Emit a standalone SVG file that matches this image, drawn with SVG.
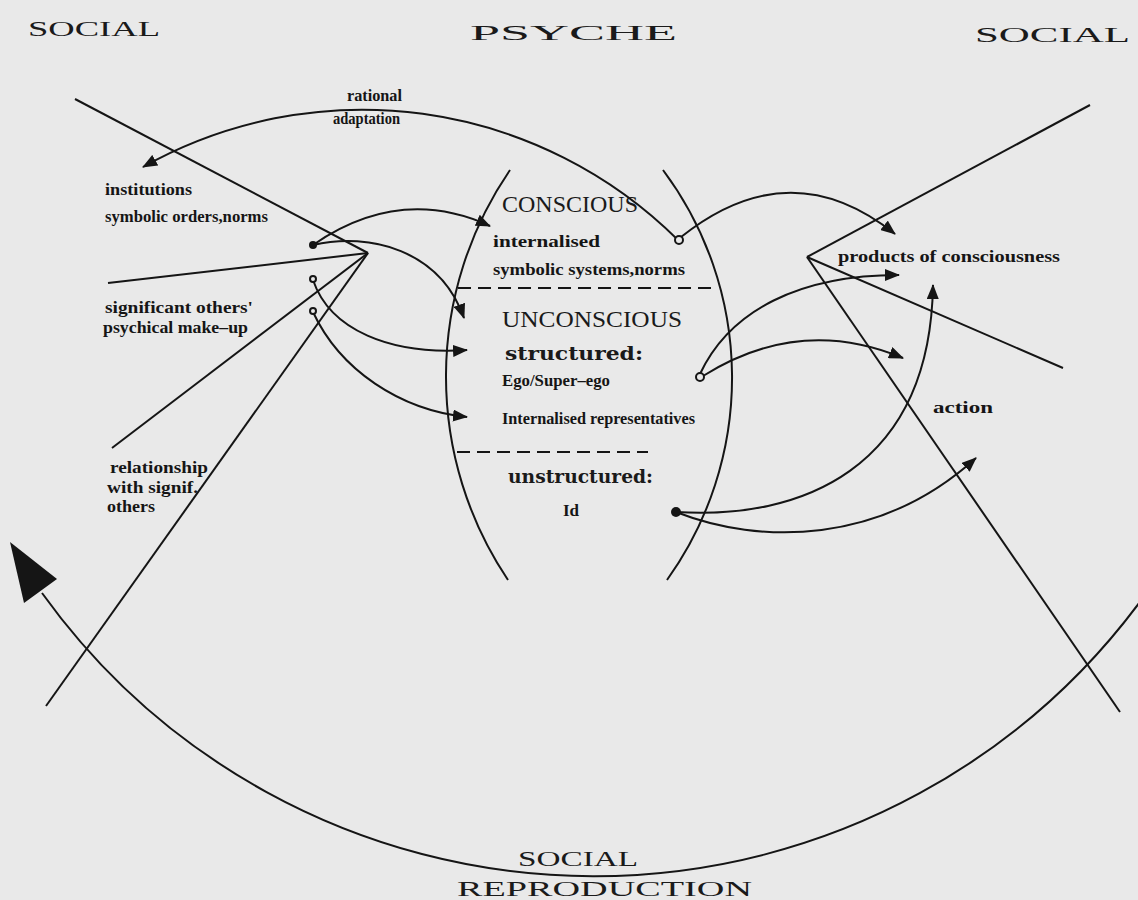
<svg xmlns="http://www.w3.org/2000/svg" width="1138" height="900" viewBox="0 0 1138 900">
<style>
.ln{fill:none;stroke:#151515;stroke-width:2}
.dash{fill:none;stroke:#151515;stroke-width:2;stroke-dasharray:13,7}
.title{font-family:"Liberation Serif",serif;font-size:22px;fill:#1a1a1a}
.caps{font-family:"Liberation Serif",serif;font-size:23px;fill:#1a1a1a}
.slab{font-family:"DejaVu Serif",serif;font-weight:bold;font-size:19px;fill:#1a1a1a}
.lab{font-family:"Liberation Serif",serif;font-weight:bold;font-size:17px;fill:#151515}
.oc{fill:#e9e9e9;stroke:#151515;stroke-width:2}
.dot{fill:#151515}
</style>
<defs>
<marker id="ah" markerWidth="15" markerHeight="12" refX="14" refY="6" orient="auto" markerUnits="userSpaceOnUse">
<path d="M0,0 L15,6 L0,12 z" fill="#151515"/>
</marker>
</defs>
<rect width="1138" height="900" fill="#e9e9e9"/>

<g id="titles">
<text class="title" x="28" y="36" textLength="132" lengthAdjust="spacingAndGlyphs">SOCIAL</text>
<text class="title" x="470" y="40" textLength="207" lengthAdjust="spacingAndGlyphs">PSYCHE</text>
<text class="title" x="975" y="42" textLength="155" lengthAdjust="spacingAndGlyphs">SOCIAL</text>
<text class="title" x="518" y="866" textLength="120" lengthAdjust="spacingAndGlyphs">SOCIAL</text>
<text class="title" x="457" y="896" textLength="295" lengthAdjust="spacingAndGlyphs">REPRODUCTION</text>
</g>

<g id="psyche">
<path class="ln" d="M510,170 A365,365 0 0 0 508,580"/>
<path class="ln" d="M663,170 A347,347 0 0 1 667,580"/>
<line class="dash" x1="458" y1="288" x2="718" y2="288"/>
<line class="dash" x1="457" y1="452" x2="648" y2="452"/>
<text class="caps" x="502" y="212" textLength="136" lengthAdjust="spacingAndGlyphs">CONSCIOUS</text>
<text class="lab" x="493" y="247" textLength="107" lengthAdjust="spacingAndGlyphs">internalised</text>
<text class="lab" x="493" y="275" textLength="192" lengthAdjust="spacingAndGlyphs">symbolic systems,norms</text>
<text class="caps" x="502" y="327" textLength="180" lengthAdjust="spacingAndGlyphs">UNCONSCIOUS</text>
<text class="slab" x="505" y="360" textLength="138" lengthAdjust="spacingAndGlyphs">structured:</text>
<text class="lab" x="502" y="386" textLength="108" lengthAdjust="spacingAndGlyphs">Ego/Super–ego</text>
<text class="lab" x="502" y="424" textLength="193" lengthAdjust="spacingAndGlyphs">Internalised representatives</text>
<text class="slab" x="508" y="483" textLength="145" lengthAdjust="spacingAndGlyphs">unstructured:</text>
<text class="lab" x="563" y="516">Id</text>
</g>

<g id="social-left">
<line class="ln" x1="75" y1="99" x2="368" y2="253"/>
<line class="ln" x1="108" y1="283" x2="368" y2="253"/>
<line class="ln" x1="112" y1="448" x2="368" y2="253"/>
<line class="ln" x1="46" y1="706" x2="368" y2="253"/>
<text class="lab" x="105" y="195" textLength="87" lengthAdjust="spacingAndGlyphs">institutions</text>
<text class="lab" x="105" y="222" textLength="163" lengthAdjust="spacingAndGlyphs">symbolic orders,norms</text>
<text class="lab" x="105" y="313" textLength="148" lengthAdjust="spacingAndGlyphs">significant others'</text>
<text class="lab" x="103" y="333" textLength="145" lengthAdjust="spacingAndGlyphs">psychical make–up</text>
<text class="lab" x="110" y="473" textLength="98" lengthAdjust="spacingAndGlyphs">relationship</text>
<text class="lab" x="107" y="493" textLength="91" lengthAdjust="spacingAndGlyphs">with signif.</text>
<text class="lab" x="107" y="512" textLength="48" lengthAdjust="spacingAndGlyphs">others</text>
</g>

<g id="social-right">
<line class="ln" x1="807" y1="257" x2="1090" y2="105"/>
<line class="ln" x1="807" y1="257" x2="1063" y2="368"/>
<line class="ln" x1="807" y1="257" x2="1120" y2="712"/>
<text class="lab" x="838" y="262" textLength="222" lengthAdjust="spacingAndGlyphs">products of consciousness</text>
<text class="lab" x="933" y="413" textLength="60" lengthAdjust="spacingAndGlyphs">action</text>
</g>

<g id="rational-adaptation">
<text class="lab" x="347" y="101" textLength="55" lengthAdjust="spacingAndGlyphs">rational</text>
<text class="lab" x="333" y="124" textLength="67" lengthAdjust="spacingAndGlyphs">adaptation</text>
</g>

<g id="connectors">
<path class="ln" d="M678,240 A448,448 0 0 0 143,167" marker-end="url(#ah)"/>
<path class="ln" d="M42,593 A680,680 0 0 0 1145,595"/>
<polygon points="10,542 57,579 24,603" fill="#151515"/>
<path class="ln" d="M313,245 Q400,185 490,226" marker-end="url(#ah)"/>
<path class="ln" d="M313,245 C370,232 440,250 464,318" marker-end="url(#ah)"/>
<path class="ln" d="M313,280 C330,330 390,355 467,350" marker-end="url(#ah)"/>
<path class="ln" d="M313,312 C340,370 400,410 467,417" marker-end="url(#ah)"/>
<path class="ln" d="M681,237 Q790,150 895,234" marker-end="url(#ah)"/>
<path class="ln" d="M700,374 C730,310 800,275 899,275" marker-end="url(#ah)"/>
<path class="ln" d="M703,376 Q800,315 903,358" marker-end="url(#ah)"/>
<path class="ln" d="M676,512 C800,520 930,470 933,285" marker-end="url(#ah)"/>
<path class="ln" d="M676,512 C760,545 880,545 976,458" marker-end="url(#ah)"/>
<circle class="dot" cx="313" cy="245" r="4"/>
<circle class="oc" cx="313" cy="279" r="3"/>
<circle class="oc" cx="313" cy="311" r="3"/>
<circle class="oc" cx="679" cy="240" r="4"/>
<circle class="oc" cx="700" cy="377" r="4"/>
<circle class="dot" cx="676" cy="512" r="5"/>
</g>
</svg>
